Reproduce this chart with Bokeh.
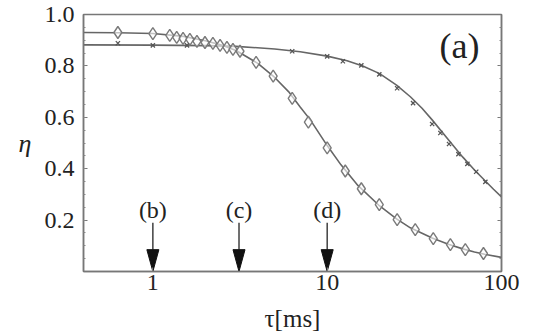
from bokeh.plotting import figure
from bokeh.models import Range1d, FixedTicker, LinearAxis, Label
from bokeh.embed import file_html
from bokeh.resources import INLINE

# ---- data ----
diamond_tau = [0.63, 1.0, 1.25, 1.37, 1.49, 1.63, 1.79, 1.99, 2.21, 2.43, 2.66, 2.88, 3.16,
               3.91, 4.9, 6.3, 7.8, 10.0, 12.7, 15.7, 19.9, 25.2, 32.0, 40.6, 50.9, 62.0, 78.8]
diamond_eta = [0.930, 0.926, 0.919, 0.911, 0.907, 0.903, 0.895, 0.891, 0.888, 0.880, 0.872, 0.864, 0.857,
               0.814, 0.760, 0.674, 0.581, 0.481, 0.391, 0.322, 0.260, 0.202, 0.163, 0.128, 0.105, 0.085, 0.070]

cross_tau = [0.63, 1.0, 1.57, 6.3, 10.0, 12.3, 15.7, 19.9, 25.2, 31.1, 40.0, 44.6, 50.0, 56.6, 63.7, 71.6, 80.8]
cross_eta = [0.888, 0.880, 0.880, 0.857, 0.837, 0.818, 0.802, 0.767, 0.713, 0.655, 0.574, 0.539, 0.496,
             0.457, 0.419, 0.388, 0.349]

fit_d_tau = [0.4, 0.63, 1.0, 1.5, 2.0, 2.5, 3.0, 4.0, 5.0, 6.0, 7.0, 8.0, 10.0, 12.0, 15.0, 20.0,
             25.0, 30.0, 40.0, 50.0, 60.0, 70.0, 80.0, 100.0]
fit_d_eta = [0.930, 0.929, 0.926, 0.915, 0.898, 0.880, 0.860, 0.810, 0.755, 0.700, 0.640, 0.590, 0.490,
             0.415, 0.335, 0.255, 0.205, 0.170, 0.130, 0.105, 0.088, 0.076, 0.067, 0.055]

fit_x_tau = [0.4, 1.0, 2.0, 3.0, 5.0, 7.0, 10.0, 13.0, 16.0, 20.0, 25.0, 30.0, 35.0, 40.0, 50.0,
             60.0, 70.0, 80.0, 90.0, 100.0]
fit_x_eta = [0.882, 0.881, 0.879, 0.876, 0.866, 0.855, 0.838, 0.820, 0.800, 0.770, 0.725, 0.680,
             0.635, 0.590, 0.510, 0.445, 0.395, 0.355, 0.320, 0.290]

arrow_tau = [1.0, 3.12, 10.0]
arrow_labels = ["(b)", "(c)", "(d)"]

x_ticks = [1, 10, 100]
y_ticks = [0.2, 0.4, 0.6, 0.8, 1.0]

SERIF = "Liberation Serif"
TXT = "#222222"
LINE = "#666666"
AX = "#777777"

p = figure(width=536, height=334, x_axis_type="log",
           x_range=Range1d(0.4, 100), y_range=Range1d(0, 1.0),
           output_backend="svg", toolbar_location=None,
           min_border_left=83, min_border_right=35, min_border_top=14, min_border_bottom=62)
p.grid.visible = False
p.outline_line_color = AX
p.outline_line_width = 1.5
p.background_fill_color = "white"
p.border_fill_color = "white"

# bottom axis
xa = p.xaxis[0]
xa.ticker = FixedTicker(ticks=x_ticks, minor_ticks=[])
xa.major_label_overrides = {1: "1", 10: "10", 100: "100"}
xa.major_tick_in = 4
xa.major_tick_out = 0
xa.minor_tick_line_color = None
xa.axis_line_color = AX
xa.axis_line_width = 1.5
xa.major_tick_line_color = AX
xa.major_label_text_font = SERIF
xa.major_label_text_font_size = "24px"
xa.major_label_text_color = TXT
xa.major_label_standoff = 3
xa.axis_label = "τ[ms]"
xa.axis_label_text_font = SERIF
xa.axis_label_text_font_size = "25px"
xa.axis_label_text_font_style = "normal"
xa.axis_label_text_color = TXT
xa.axis_label_standoff = 12

# left axis
minor_y = [round(0.05 * i, 2) for i in range(1, 20)]
ya = p.yaxis[0]
ya.ticker = FixedTicker(ticks=y_ticks, minor_ticks=minor_y)
ya.major_label_overrides = {0.2: "0.2", 0.4: "0.4", 0.6: "0.6", 0.8: "0.8", 1.0: "1.0"}
ya.major_tick_in = 4
ya.major_tick_out = 0
ya.minor_tick_in = 2
ya.minor_tick_out = 0
ya.axis_line_color = AX
ya.axis_line_width = 1.5
ya.major_tick_line_color = AX
ya.minor_tick_line_color = "#888888"
ya.major_label_text_font = SERIF
ya.major_label_text_font_size = "24px"
ya.major_label_text_color = TXT
ya.major_label_standoff = 9
ya.axis_label = "η"
ya.axis_label_orientation = "horizontal"
ya.axis_label_text_font = SERIF
ya.axis_label_text_font_size = "26px"
ya.axis_label_text_font_style = "italic"
ya.axis_label_text_color = TXT
ya.axis_label_standoff = 10

# right mirror axis (ticks only)
ra = LinearAxis(ticker=FixedTicker(ticks=y_ticks, minor_ticks=minor_y))
ra.major_label_overrides = {t: "" for t in y_ticks}
ra.major_tick_in = 4
ra.major_tick_out = 0
ra.minor_tick_in = 2
ra.minor_tick_out = 0
ra.axis_line_color = AX
ra.axis_line_width = 1.5
ra.major_tick_line_color = AX
ra.minor_tick_line_color = "#888888"
ra.major_label_standoff = 0
p.add_layout(ra, "right")

# fit curves
p.line(fit_d_tau, fit_d_eta, line_color=LINE, line_width=1.6)
p.line(fit_x_tau, fit_x_eta, line_color=LINE, line_width=1.6)

# data points
p.scatter(diamond_tau, diamond_eta, marker="diamond", size=12, fill_color="white",
          fill_alpha=0.6, line_color="#7a7a7a", line_width=1.4)
p.scatter(cross_tau, cross_eta, marker="x", size=6, line_color="#555555", line_width=1.3)

# arrows
shaft_top, head_base = 0.19, 0.085
half = 10 ** (6 / 174)
for t, lab in zip(arrow_tau, arrow_labels):
    p.segment(x0=[t], y0=[shaft_top], x1=[t], y1=[head_base], line_color="#333333", line_width=1.4)
    p.patch(x=[t / half, t * half, t], y=[head_base, head_base, 0.0],
            fill_color="#111111", line_color="#111111")
    p.add_layout(Label(x=t, y=0.24, text=lab, text_font=SERIF, text_font_size="24px",
                       text_color=TXT, text_align="center", text_baseline="middle"))

p.add_layout(Label(x=57.4, y=0.876, text="(a)", text_font=SERIF, text_font_size="36px",
                   text_color=TXT, text_align="center", text_baseline="middle"))

open("out.html", "w").write(file_html(p, INLINE))
